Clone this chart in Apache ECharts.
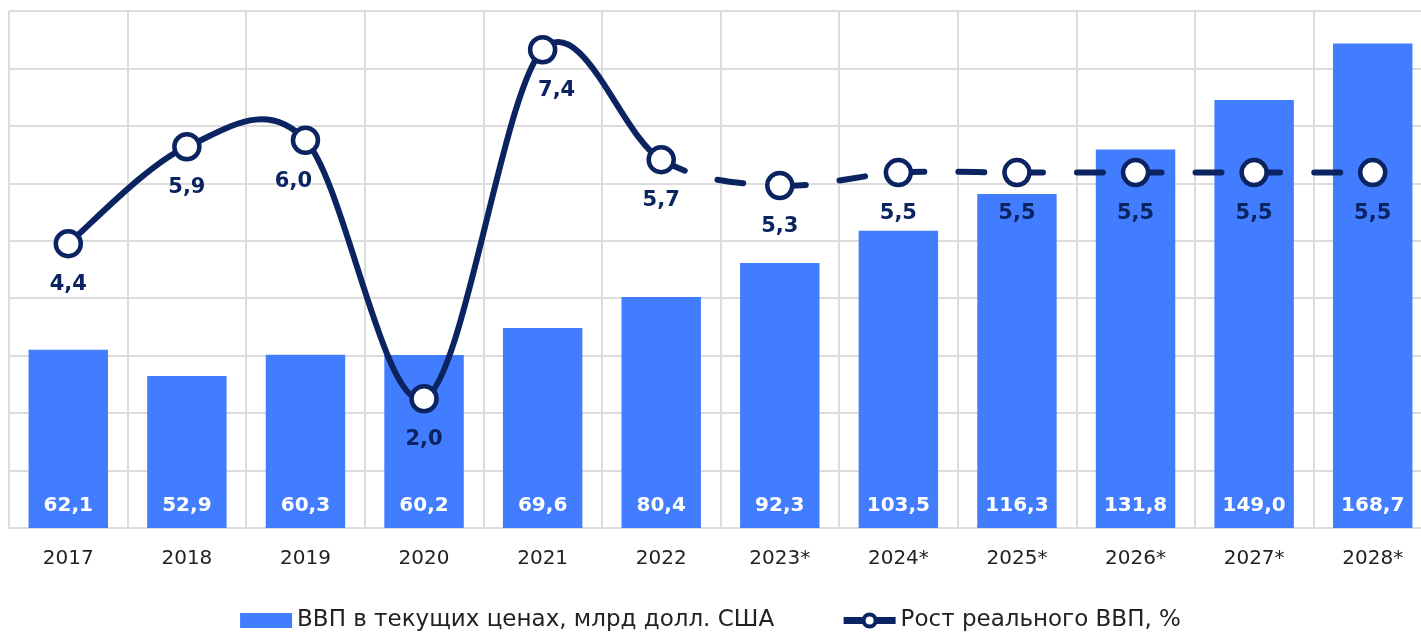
<!DOCTYPE html>
<html><head><meta charset="utf-8">
<script src="https://cdn.jsdelivr.net/npm/echarts@6/dist/echarts.min.js"></script>
<style>html,body{margin:0;padding:0;background:#fff}#c{width:1421px;height:635px}</style>
</head><body><div id="c"></div>
<script>
const categories = ['2017','2018','2019','2020','2021','2022','2023*','2024*','2025*','2026*','2027*','2028*'];
const gdpValues = [62.1, 52.9, 60.3, 60.2, 69.6, 80.4, 92.3, 103.5, 116.3, 131.8, 149.0, 168.7];
const growthActual = [4.4, 5.9, 6.0, 2.0, 7.4, 5.7, null, null, null, null, null, null];
const growthForecast = [null, null, null, null, null, 5.7, 5.3, 5.5, 5.5, 5.5, 5.5, 5.5];
const seriesNames = ['ВВП в текущих ценах, млрд долл. США', 'Рост реального ВВП, %'];

const FONT = 'DejaVu Sans';
const NAVY = '#0b2461';
const BLUE = '#437dff';
const GRID = '#dcdcdc';
const fmt = v => v.toFixed(1).replace('.', ',');

const growth = growthActual.map((v, i) => v != null ? v : growthForecast[i]);
const lastActual = growthActual.reduce((a, v, i) => v != null ? i : a, 0);
// label nudges to keep values clear of the curve
const labelShift = { 2: [-12, 0], 4: [14, 0] };

function renderCurve(params, api) {
  const i = params.dataIndex;
  const n = growth.length;
  if (i >= n - 1) return null;
  const c = k => Math.max(0, Math.min(n - 1, k));
  const P = k => api.coord([c(k), growth[c(k)]]);
  const p0 = P(i - 1), p1 = P(i), p2 = P(i + 1), p3 = P(i + 2);
  const t = 1 / 6;
  return {
    type: 'bezierCurve',
    shape: {
      x1: p1[0], y1: p1[1], x2: p2[0], y2: p2[1],
      cpx1: p1[0] + (p2[0] - p0[0]) * t, cpy1: p1[1] + (p2[1] - p0[1]) * t,
      cpx2: p2[0] - (p3[0] - p1[0]) * t, cpy2: p2[1] - (p3[1] - p1[1]) * t
    },
    style: {
      stroke: NAVY, lineWidth: 6, fill: null, lineCap: 'round',
      lineDash: i >= lastActual ? [26, 34] : null
    }
  };
}

const chart = echarts.init(document.getElementById('c'));
chart.setOption({
  animation: false,
  grid: { left: 9, width: 1423, top: 11, bottom: 107, outerBoundsMode: 'none', containLabel: false },
  legend: {
    bottom: -2, left: 'center', itemGap: 66, itemWidth: 52, itemHeight: 15,
    textStyle: { fontFamily: FONT, fontSize: 23, color: '#222' },
    data: [
      { name: seriesNames[0], icon: 'rect' },
      { name: seriesNames[1], lineStyle: { opacity: 1, width: 7, color: NAVY },
        itemStyle: { color: '#fff', borderColor: NAVY, borderWidth: 4 } }
    ]
  },
  xAxis: {
    type: 'category', data: categories,
    axisLine: { show: true, lineStyle: { color: GRID, width: 2 } },
    axisTick: { show: false },
    splitLine: { show: true, lineStyle: { color: GRID, width: 2 } },
    axisLabel: { color: '#222', fontFamily: FONT, fontSize: 20, margin: 21 }
  },
  yAxis: [
    { type: 'value', min: 0, max: 180, interval: 20,
      axisLabel: { show: false }, axisLine: { show: false }, axisTick: { show: false },
      splitLine: { show: true, lineStyle: { color: GRID, width: 2 } } },
    { type: 'value', min: 0, max: 8, interval: 1,
      axisLabel: { show: false }, axisLine: { show: false }, axisTick: { show: false },
      splitLine: { show: false } }
  ],
  series: [
    { name: seriesNames[0], type: 'bar', data: gdpValues, barWidth: '67%',
      itemStyle: { color: BLUE },
      label: { show: true, position: 'insideBottom', distance: 12, color: '#fff',
        fontFamily: FONT, fontWeight: 'bold', fontSize: 20,
        formatter: p => fmt(p.value) } },
    { name: 'curve', type: 'custom', yAxisIndex: 1, z: 4,
      data: growth.map((v, i) => [i, v]), encode: { x: 0, y: 1 },
      renderItem: renderCurve, silent: true },
    { name: seriesNames[1], type: 'line', yAxisIndex: 1, z: 5,
      data: growth.map((v, i) => ({ value: v,
        label: labelShift[i] ? { offset: labelShift[i] } : undefined })),
      symbol: 'circle', symbolSize: 25,
      lineStyle: { opacity: 0 },
      itemStyle: { color: '#fff', borderColor: NAVY, borderWidth: 4.5 },
      label: { show: true, position: 'bottom', distance: 16,
        color: NAVY, fontFamily: FONT, fontWeight: 'bold', fontSize: 21,
        formatter: p => fmt(p.value) } }
  ]
});
</script></body></html>
